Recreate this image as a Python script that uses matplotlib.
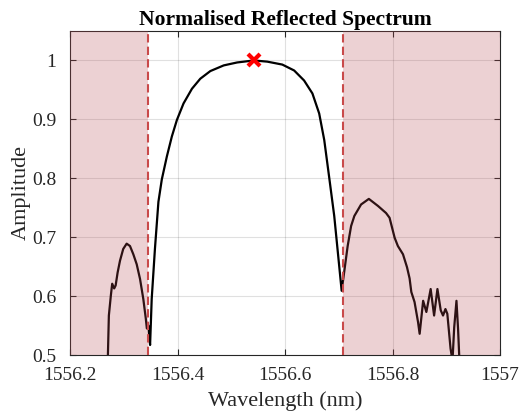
import matplotlib
matplotlib.use('Agg')
import matplotlib.pyplot as plt

# Wavelength (nm) and normalised amplitude of the reflected spectrum
wavelength = [
    1556.2700, 1556.2723, 1556.2760, 1556.2785, 1556.2822, 1556.2849, 1556.2886,
    1556.2930, 1556.2990, 1556.3054, 1556.3116, 1556.3178, 1556.3241, 1556.3303,
    1556.3364, 1556.3410, 1556.3430, 1556.3460, 1556.3477, 1556.3490,
    1556.3520, 1556.3580, 1556.3645, 1556.3708, 1556.3802, 1556.3895, 1556.3989,
    1556.4112, 1556.4269, 1556.4424, 1556.4611, 1556.4860, 1556.5110, 1556.5420,
    1556.5670, 1556.5950, 1556.6170, 1556.6355, 1556.6510, 1556.6636, 1556.6730,
    1556.6820, 1556.6916, 1556.6990, 1556.7054,
    1556.7100, 1556.7166, 1556.7230, 1556.7290, 1556.7415, 1556.7560, 1556.7730,
    1556.7880, 1556.7945, 1556.8040, 1556.8100, 1556.8195, 1556.8270, 1556.8318,
    1556.8350, 1556.8410, 1556.8475, 1556.8505, 1556.8570, 1556.8630, 1556.8710,
    1556.8774, 1556.8836, 1556.8897, 1556.8940, 1556.8985, 1556.9020, 1556.9080,
    1556.9116, 1556.9148, 1556.9190, 1556.9220, 1556.9250,
]
amplitude = [
    0.480, 0.567, 0.601, 0.621, 0.613, 0.618, 0.640,
    0.660, 0.680, 0.689, 0.685, 0.671, 0.654, 0.629,
    0.595, 0.562, 0.545, 0.550, 0.528, 0.517,
    0.595, 0.680, 0.760, 0.798, 0.837, 0.871, 0.899,
    0.927, 0.952, 0.969, 0.982, 0.9916, 0.9966, 1.000,
    0.998, 0.993, 0.983, 0.966, 0.944, 0.910, 0.865,
    0.803, 0.736, 0.668, 0.609,
    0.640, 0.685, 0.719, 0.736, 0.7555, 0.765, 0.753,
    0.741, 0.733, 0.699, 0.685, 0.671, 0.649, 0.630,
    0.607, 0.590, 0.556, 0.536, 0.592, 0.573, 0.612,
    0.567, 0.612, 0.576, 0.567, 0.578, 0.570, 0.511,
    0.490, 0.547, 0.592, 0.544, 0.480,
]

peak_wl = 1556.542
peak_amp = 1.0

band_lo = 1556.3443
band_hi = 1556.7073

xticks = [1556.2, 1556.4, 1556.6, 1556.8, 1557]
xticklabels = ['1556.2', '1556.4', '1556.6', '1556.8', '1557']
yticks = [0.5, 0.6, 0.7, 0.8, 0.9, 1.0]
yticklabels = ['0.5', '0.6', '0.7', '0.8', '0.9', '1']

plt.rcParams['font.family'] = ['Liberation Serif', 'DejaVu Serif']

fig = plt.figure(figsize=(5.19, 4.17), dpi=100)
ax = fig.add_axes([70 / 519, 62 / 417, 430 / 519, 324 / 417])

ax.plot(wavelength, amplitude, color='black', linewidth=1.6, zorder=2)
ax.plot(peak_wl, peak_amp, 'x', color='red', markersize=9, markeredgewidth=3, zorder=5)

# shaded regions outside the stop band (drawn on top, semi transparent)
ax.axvspan(1556.2, band_lo, color='#b74b53', alpha=0.25, linewidth=0, zorder=3)
ax.axvspan(band_hi, 1557, color='#b74b53', alpha=0.25, linewidth=0, zorder=3)
ax.axvline(band_lo, color='#c94a4a', linestyle=(0, (4, 2)), linewidth=1.5, zorder=4)
ax.axvline(band_hi, color='#c94a4a', linestyle=(0, (4, 2)), linewidth=1.5, zorder=4)

ax.set_xlim(1556.2, 1557)
ax.set_ylim(0.5, 1.05)
ax.set_xticks(xticks)
ax.set_xticklabels(xticklabels)
ax.set_yticks(yticks)
ax.set_yticklabels(yticklabels)

ax.grid(True, color='black', alpha=0.12, linewidth=0.8)
ax.tick_params(direction='in', top=True, right=True, length=4, width=0.8,
               labelsize=14, colors='#262626')
ax.tick_params(axis='x', pad=9)
ax.tick_params(axis='y', pad=10)
for s in ax.spines.values():
    s.set_color('#262626')
    s.set_linewidth(0.8)

ax.set_xlabel('Wavelength (nm)', fontsize=16, color='#262626', labelpad=5)
ax.set_ylabel('Amplitude', fontsize=16, color='#262626', labelpad=1)
ax.set_title('Normalised Reflected Spectrum', fontsize=15.5, fontweight='bold', pad=4)

fig.savefig('out.png', dpi=100)
